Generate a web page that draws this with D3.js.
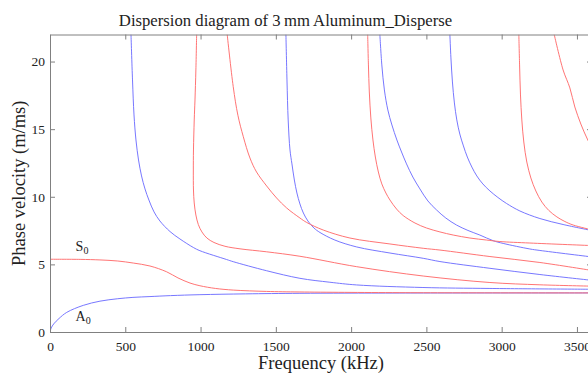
<!DOCTYPE html>
<html>
<head>
<meta charset="utf-8">
<script src="https://cdn.jsdelivr.net/npm/d3@7/dist/d3.min.js"></script>
<style>
  html, body { margin: 0; padding: 0; background: #fff; overflow: hidden; }
  text { font-family: "Liberation Serif", "DejaVu Serif", serif; fill: #222; }
</style>
</head>
<body>
<svg id="chart" width="588" height="374"></svg>
<script>
// ---- Data (frequency kHz, phase velocity m/ms) ----
const xTicks = [0, 500, 1000, 1500, 2000, 2500, 3000, 3500];
const yTicks = [0, 5, 10, 15, 20];

const A0 = [[0,0],[8,0.3],[25,0.6],[60,1.0],[111,1.45],[221,1.97],[332,2.28],[450,2.46],[551,2.56],[664,2.62],[800,2.69],[996,2.76],[1300,2.82],[1660,2.86],[2324,2.88],[3600,2.89]];
const S0 = [[0,5.38],[200,5.37],[332,5.33],[450,5.25],[553,5.1],[664,4.88],[775,4.45],[850,4.0],[930,3.62],[996,3.42],[1100,3.22],[1217,3.1],[1439,3.0],[1660,2.96],[2324,2.91],[3600,2.89]];
const A1 = [[538,22],[548,18.64],[558,16.05],[571,14.2],[588,12.72],[608,11.54],[631,10.58],[657,9.76],[691,8.88],[730,8.21],[797,7.43],[863,6.88],[952,6.25],[996,6.01],[1173,5.36],[1217,5.2],[1439,4.53],[1660,3.97],[1859,3.68],[2037,3.48],[2477,3.29],[2922,3.22],[3600,3.16]];
const S1 = [[974,22],[969,19.38],[963,17.16],[958,15.68],[953,13.46],[952,11.98],[953,10.5],[958,9.54],[969,8.65],[985,7.95],[1009,7.4],[1042,6.95],[1089,6.62],[1162,6.34],[1262,6.15],[1439,5.93],[1660,5.6],[2037,4.83],[2479,4.14],[2922,3.66],[3254,3.49],[3600,3.39]];
const S2 = [[1177,22],[1217,18.14],[1248,16.03],[1284,14.44],[1328,12.87],[1372,11.83],[1439,10.8],[1505,9.91],[1572,9.17],[1660,8.43],[1705,8.1],[1815,7.54],[1992,6.95],[2258,6.51],[2479,6.19],[2590,6.06],[2922,5.58],[3254,5.14],[3600,4.55]];
const A2 = [[1567,22],[1574,18.64],[1582,15.68],[1594,13.46],[1607,12.43],[1623,11.24],[1640,10.28],[1660,9.47],[1683,8.8],[1713,8.21],[1753,7.69],[1793,7.36],[1892,6.8],[2037,6.29],[2258,5.84],[2479,5.45],[2590,5.21],[2922,4.71],[3254,4.25],[3600,3.82]];
const S3 = [[2110,22],[2115,19.75],[2121,17.75],[2131,15.83],[2145,14.2],[2161,12.94],[2181,11.83],[2204,10.95],[2231,10.28],[2258,9.76],[2302,9.09],[2346,8.61],[2424,8.06],[2501,7.69],[2590,7.4],[2678,7.17],[2789,6.95],[2900,6.8],[2988,6.69],[3187,6.58],[3600,6.39]];
const A3 = [[2191,22],[2204,19.75],[2221,17.9],[2244,16.42],[2271,15.31],[2304,14.2],[2335,13.31],[2368,12.43],[2410,11.46],[2457,10.58],[2510,9.69],[2568,9.02],[2629,8.43],[2700,7.91],[2776,7.51],[2855,7.17],[2944,6.75],[3010,6.55],[3187,6.14],[3254,6.03],[3600,5.55]];
const A4 = [[2656,22],[2663,20.27],[2673,18.49],[2686,16.94],[2702,15.68],[2722,14.64],[2746,13.76],[2772,12.94],[2802,12.2],[2835,11.54],[2875,10.95],[2922,10.43],[2975,9.95],[3033,9.5],[3121,8.95],[3254,8.39],[3408,7.95],[3600,7.5]];
const S4 = [[3114,22],[3119,19.75],[3125,17.53],[3134,15.68],[3147,14.05],[3167,12.57],[3194,11.39],[3227,10.43],[3267,9.61],[3313,8.99],[3367,8.51],[3420,8.17],[3475,7.91],[3600,7.55]];
const S5 = [[3349,22],[3408,19.38],[3453,18.05],[3486,16.64],[3526,15.38],[3572,14.2],[3652,12.5]];

const blueModes = [A0, A1, A2, A3, A4];
const redModes = [S0, S1, S2, S3, S4, S5];

const title = "Dispersion diagram of 3\u2009mm Aluminum_Disperse";
const xLabel = "Frequency (kHz)";
const yLabel = "Phase velocity (m/ms)";

// ---- Layout ----
const L = 50, R = 592, T = 34.5, B = 332;
const svg = d3.select("#chart");
const x = d3.scaleLinear().domain([0, 3600]).range([L, R]);
const y = d3.scaleLinear().domain([0, 22]).range([B, T]);

svg.append("defs").append("clipPath").attr("id", "clip")
  .append("rect").attr("x", L).attr("y", T).attr("width", R - L).attr("height", B - T);

const line = d3.line().x(d => x(d[0])).y(d => y(d[1])).curve(d3.curveCatmullRom.alpha(0.5));

const g = svg.append("g").attr("clip-path", "url(#clip)");
blueModes.forEach(m => g.append("path").attr("d", line(m)).attr("fill", "none")
  .attr("stroke", "#7070ff").attr("stroke-width", 0.95));
redModes.forEach(m => g.append("path").attr("d", line(m)).attr("fill", "none")
  .attr("stroke", "#ff6d6d").attr("stroke-width", 0.95));

// ---- Axes ----
const axisColor = "#808080";
function styleAxis(sel) {
  sel.select(".domain").attr("stroke", axisColor);
  sel.selectAll(".tick line").attr("stroke", axisColor);
  sel.selectAll(".tick text").style("font-size", "13.5px").attr("fill", "#222");
}
const xb = svg.append("g").attr("transform", `translate(0,${B})`)
  .call(d3.axisBottom(x).tickValues(xTicks).tickSizeInner(-5).tickSizeOuter(0).tickPadding(9).tickFormat(d3.format("d")));
styleAxis(xb);
const xt = svg.append("g").attr("transform", `translate(0,${T})`)
  .call(d3.axisTop(x).tickValues(xTicks).tickSizeInner(-5).tickSizeOuter(0).tickFormat(""));
styleAxis(xt);
const yl = svg.append("g").attr("transform", `translate(${L},0)`)
  .call(d3.axisLeft(y).tickValues(yTicks).tickSizeInner(-5).tickSizeOuter(0).tickPadding(5).tickFormat(d3.format("d")));
styleAxis(yl);
const yr = svg.append("g").attr("transform", `translate(${R},0)`)
  .call(d3.axisRight(y).tickValues(yTicks).tickSizeInner(-5).tickSizeOuter(0).tickFormat(""));
styleAxis(yr);

// ---- Texts ----
svg.append("text").attr("x", 285.5).attr("y", 25.5).attr("text-anchor", "middle")
  .style("font-size", "16.7px").text(title);
svg.append("text").attr("x", (L + R) / 2).attr("y", 368.5).attr("text-anchor", "middle")
  .style("font-size", "18.5px").text(xLabel);
svg.append("text").attr("transform", `translate(25,${(T + B) / 2}) rotate(-90)`).attr("text-anchor", "middle")
  .style("font-size", "18.5px").text(yLabel);

function modeLabel(letter, px, py) {
  const t = svg.append("text").attr("x", px).attr("y", py).style("font-size", "14px");
  t.append("tspan").text(letter);
  t.append("tspan").attr("dy", 3).style("font-size", "10px").text("0");
}
modeLabel("S", x(170), y(6.0));
modeLabel("A", x(170), y(0.85));
</script>
</body>
</html>
